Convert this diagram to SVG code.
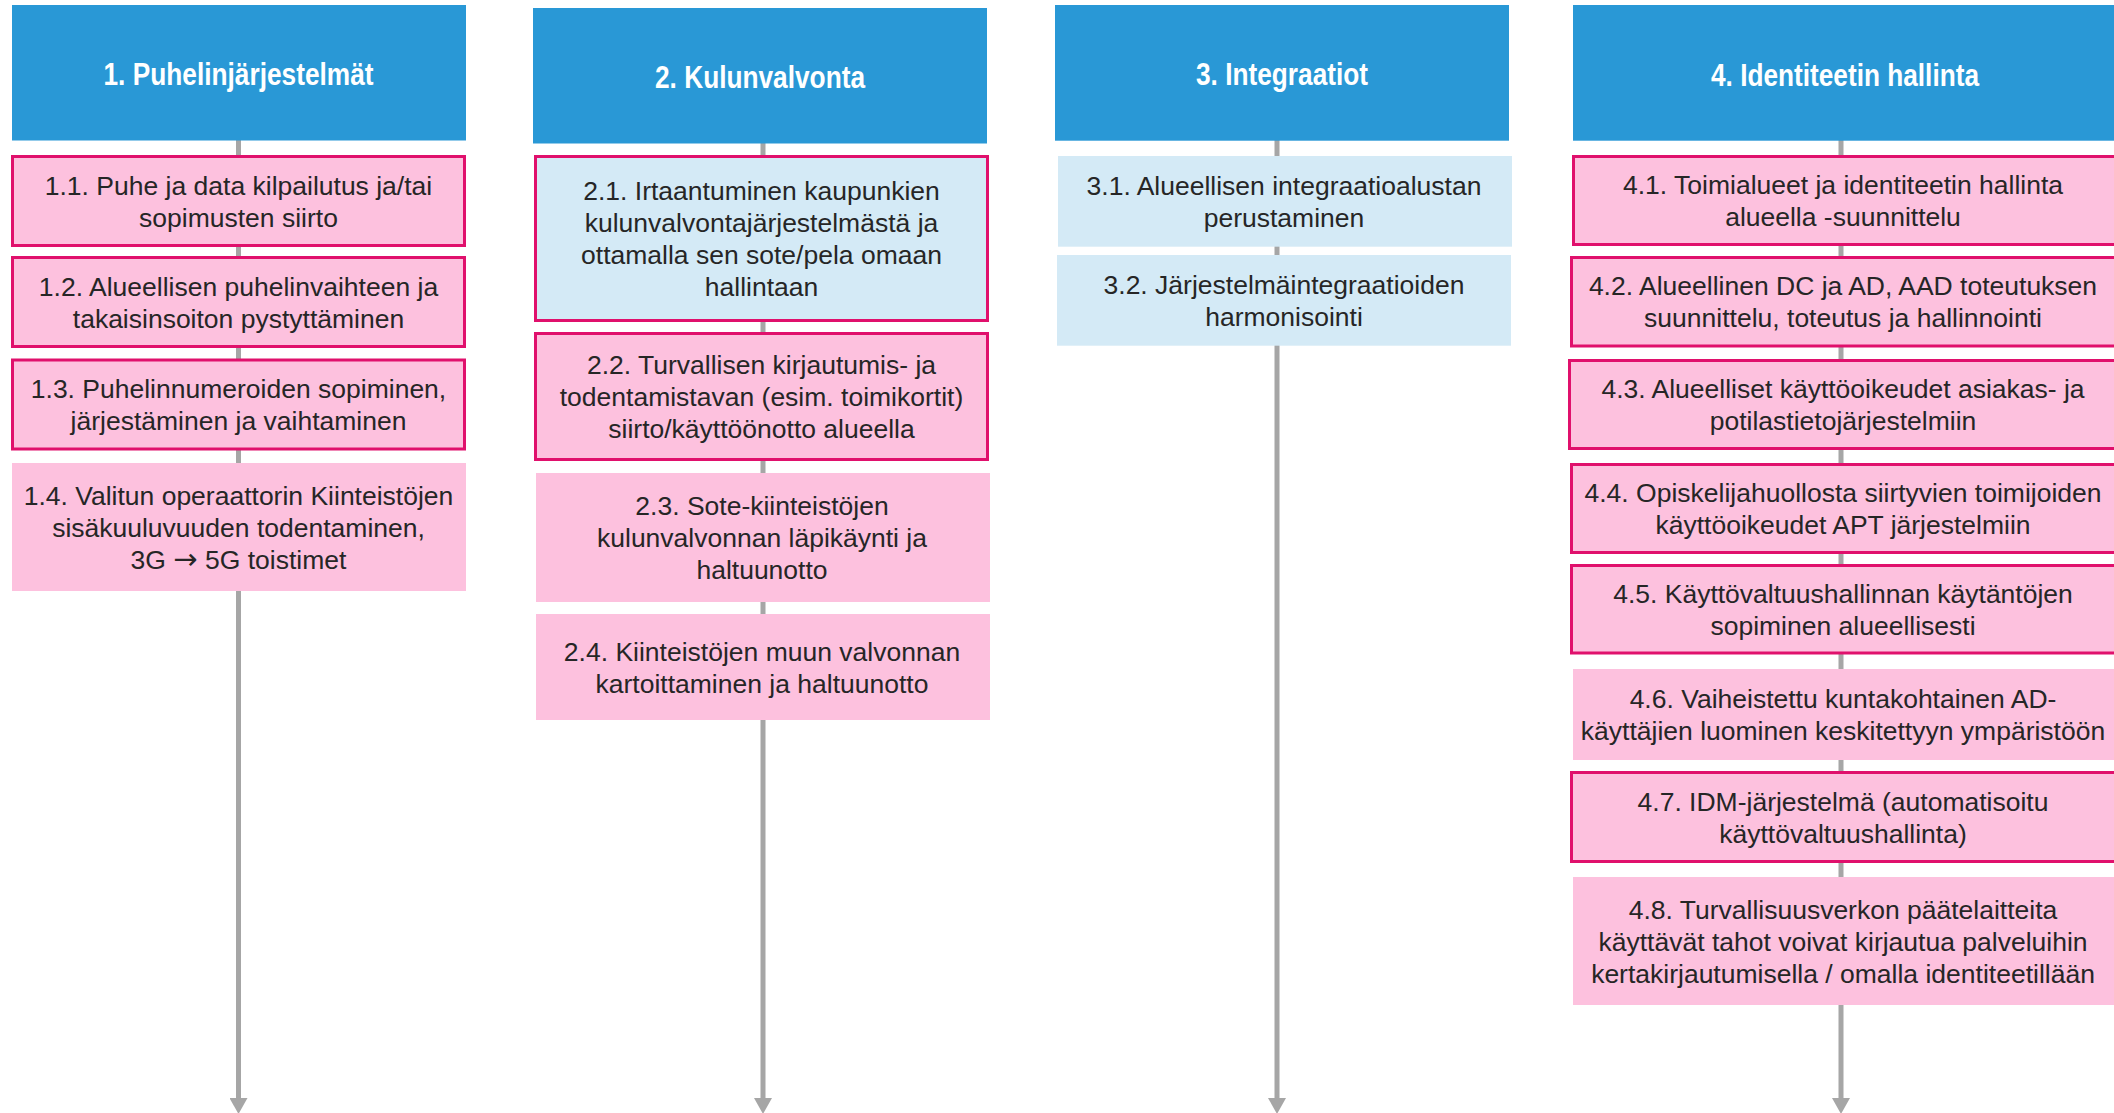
<svg xmlns="http://www.w3.org/2000/svg" width="2114" height="1113" viewBox="0 0 2114 1113">
<style>
.hdr{fill:#2998D6}
.hdrt{font-family:"Liberation Sans Narrow","Arial Narrow","Liberation Sans",Arial,sans-serif;font-weight:bold;font-size:32px;fill:#FFFFFF;text-anchor:middle}
.pk{fill:#FDC1DE}
.bl{fill:#D4EAF6}
.bd{stroke:#E0106C;stroke-width:3}
.t{font-family:"Liberation Sans",Arial,sans-serif;font-size:26.5px;fill:#262626;text-anchor:middle}
.ar{font-family:"DejaVu Sans",sans-serif;font-size:29px}
.ln{stroke:#A6A6A6;stroke-width:5;fill:none}
</style>
<defs>
<marker id="ah" markerUnits="userSpaceOnUse" viewBox="0 0 16 18" refX="0" refY="9" markerWidth="16" markerHeight="18" orient="auto">
<path d="M0,0 L16,9 L0,18 z" fill="#A6A6A6"/>
</marker>
</defs>
<rect width="2114" height="1113" fill="#FFFFFF"/>
<g id="connectors">
<line class="ln" x1="238.5" y1="140" x2="238.5" y2="1098" marker-end="url(#ah)"/>
<line class="ln" x1="763" y1="143" x2="763" y2="1098" marker-end="url(#ah)"/>
<line class="ln" x1="1277" y1="140" x2="1277" y2="1098" marker-end="url(#ah)"/>
<line class="ln" x1="1841" y1="140" x2="1841" y2="1098" marker-end="url(#ah)"/>
</g>
<g id="h1"><rect class="hdr" x="12" y="5" width="454" height="135.5"/><text class="hdrt" x="238.5" y="85" textLength="270" lengthAdjust="spacingAndGlyphs">1. Puhelinjärjestelmät</text></g>
<g id="n1-1"><rect class="pk bd" x="12.5" y="156.5" width="452" height="89"/><text class="t"><tspan x="238.5" y="194.5">1.1. Puhe ja data kilpailutus ja/tai</tspan><tspan x="238.5" y="226.5">sopimusten siirto</tspan></text></g>
<g id="n1-2"><rect class="pk bd" x="12.5" y="257.5" width="452" height="89"/><text class="t"><tspan x="238.5" y="295.5">1.2. Alueellisen puhelinvaihteen ja</tspan><tspan x="238.5" y="327.5">takaisinsoiton pystyttäminen</tspan></text></g>
<g id="n1-3"><rect class="pk bd" x="12.5" y="360" width="452" height="89"/><text class="t"><tspan x="238.5" y="397.8">1.3. Puhelinnumeroiden sopiminen,</tspan><tspan x="238.5" y="429.8">järjestäminen ja vaihtaminen</tspan></text></g>
<g id="n1-4"><rect class="pk" x="12" y="463" width="454" height="128"/><text class="t"><tspan x="238.5" y="504.5">1.4. Valitun operaattorin Kiinteistöjen</tspan><tspan x="238.5" y="536.5">sisäkuuluvuuden todentaminen,</tspan><tspan x="238.5" y="568.5">3G <tspan class="ar">→</tspan> 5G toistimet</tspan></text></g>

<g id="h2"><rect class="hdr" x="533" y="8" width="454" height="135.5"/><text class="hdrt" x="760" y="88" textLength="210" lengthAdjust="spacingAndGlyphs">2. Kulunvalvonta</text></g>
<g id="n2-1"><rect class="bl bd" x="535.5" y="156.5" width="452" height="164"/><text class="t"><tspan x="761.5" y="200">2.1. Irtaantuminen kaupunkien</tspan><tspan x="761.5" y="232">kulunvalvontajärjestelmästä ja</tspan><tspan x="761.5" y="264">ottamalla sen sote/pela omaan</tspan><tspan x="761.5" y="296">hallintaan</tspan></text></g>
<g id="n2-2"><rect class="pk bd" x="535.5" y="333.5" width="452" height="126"/><text class="t"><tspan x="761.5" y="374">2.2. Turvallisen kirjautumis- ja</tspan><tspan x="761.5" y="406">todentamistavan (esim. toimikortit)</tspan><tspan x="761.5" y="438">siirto/käyttöönotto alueella</tspan></text></g>
<g id="n2-3"><rect class="pk" x="536" y="473" width="454" height="129"/><text class="t"><tspan x="762" y="515">2.3. Sote-kiinteistöjen</tspan><tspan x="762" y="547">kulunvalvonnan läpikäynti ja</tspan><tspan x="762" y="579">haltuunotto</tspan></text></g>
<g id="n2-4"><rect class="pk" x="536" y="614" width="454" height="106"/><text class="t"><tspan x="762" y="660.5">2.4. Kiinteistöjen muun valvonnan</tspan><tspan x="762" y="692.5">kartoittaminen ja haltuunotto</tspan></text></g>

<g id="h3"><rect class="hdr" x="1055" y="5" width="454" height="135.7"/><text class="hdrt" x="1282" y="85" textLength="172" lengthAdjust="spacingAndGlyphs">3. Integraatiot</text></g>
<g id="n3-1"><rect class="bl" x="1058" y="156" width="454" height="90.7"/><text class="t"><tspan x="1284" y="194.8">3.1. Alueellisen integraatioalustan</tspan><tspan x="1284" y="226.8">perustaminen</tspan></text></g>
<g id="n3-2"><rect class="bl" x="1057" y="255" width="454" height="90.7"/><text class="t"><tspan x="1284" y="293.8">3.2. Järjestelmäintegraatioiden</tspan><tspan x="1284" y="325.8">harmonisointi</tspan></text></g>

<g id="h4"><rect class="hdr" x="1573" y="5" width="560" height="135.7"/><text class="hdrt" x="1845" y="86" textLength="268" lengthAdjust="spacingAndGlyphs">4. Identiteetin hallinta</text></g>
<g id="n4-1"><rect class="pk bd" x="1573.5" y="156.5" width="560" height="88"/><text class="t"><tspan x="1843" y="194">4.1. Toimialueet ja identiteetin hallinta</tspan><tspan x="1843" y="226">alueella -suunnittelu</tspan></text></g>
<g id="n4-2"><rect class="pk bd" x="1571.5" y="257.5" width="560" height="88.5"/><text class="t"><tspan x="1843" y="295.3">4.2. Alueellinen DC ja AD, AAD toteutuksen</tspan><tspan x="1843" y="327.3">suunnittelu, toteutus ja hallinnointi</tspan></text></g>
<g id="n4-3"><rect class="pk bd" x="1569.5" y="360.5" width="560" height="88"/><text class="t"><tspan x="1843" y="398">4.3. Alueelliset käyttöoikeudet asiakas- ja</tspan><tspan x="1843" y="430">potilastietojärjestelmiin</tspan></text></g>
<g id="n4-4"><rect class="pk bd" x="1571.5" y="464.5" width="560" height="88"/><text class="t"><tspan x="1843" y="502">4.4. Opiskelijahuollosta siirtyvien toimijoiden</tspan><tspan x="1843" y="534">käyttöoikeudet APT järjestelmiin</tspan></text></g>
<g id="n4-5"><rect class="pk bd" x="1571.5" y="565.5" width="560" height="87.5"/><text class="t"><tspan x="1843" y="602.5">4.5. Käyttövaltuushallinnan käytäntöjen</tspan><tspan x="1843" y="634.5">sopiminen alueellisesti</tspan></text></g>
<g id="n4-6"><rect class="pk" x="1573" y="669" width="560" height="91"/><text class="t"><tspan x="1843" y="708">4.6. Vaiheistettu kuntakohtainen AD-</tspan><tspan x="1843" y="740">käyttäjien luominen keskitettyyn ympäristöön</tspan></text></g>
<g id="n4-7"><rect class="pk bd" x="1571.5" y="772.5" width="560" height="89"/><text class="t"><tspan x="1843" y="810.5">4.7. IDM-järjestelmä (automatisoitu</tspan><tspan x="1843" y="842.5">käyttövaltuushallinta)</tspan></text></g>
<g id="n4-8"><rect class="pk" x="1573" y="877" width="560" height="128"/><text class="t"><tspan x="1843" y="918.5">4.8. Turvallisuusverkon päätelaitteita</tspan><tspan x="1843" y="950.5">käyttävät tahot voivat kirjautua palveluihin</tspan><tspan x="1843" y="982.5">kertakirjautumisella / omalla identiteetillään</tspan></text></g>
</svg>
